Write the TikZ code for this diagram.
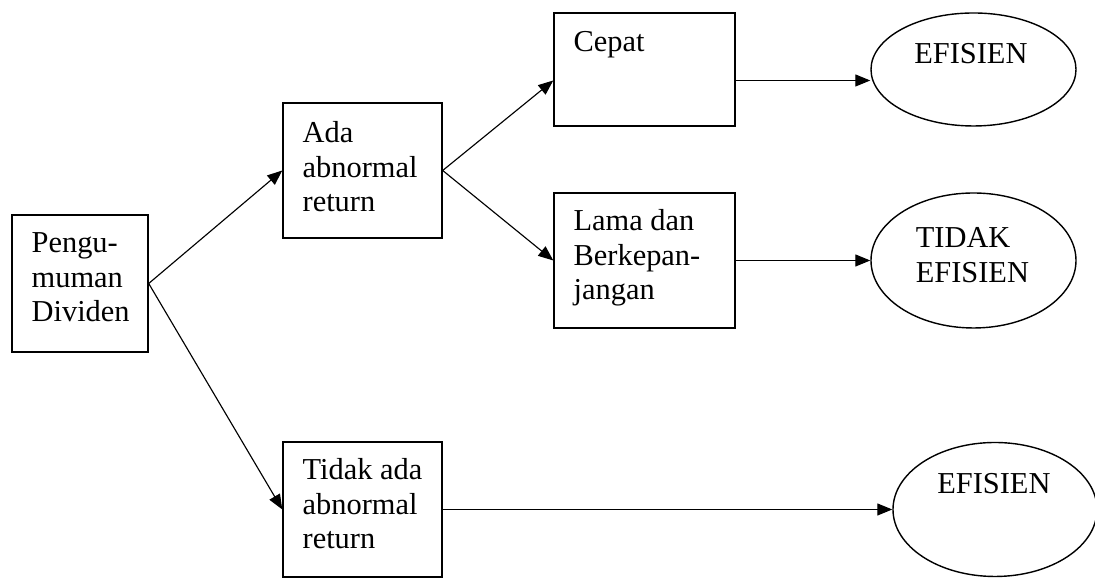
\documentclass[tikz,border=0pt]{standalone}
\usepackage{fontspec}
\setmainfont{Liberation Serif}
\usetikzlibrary{shapes.geometric, arrows.meta, positioning}

\tikzset{
    box/.style={draw, line width=0.8pt, inner sep=0pt},
    oval/.style={draw, ellipse, line width=0.8pt, inner sep=0pt},
    txt/.style={inner sep=0pt, align=left, font=\fontsize{17.3}{19.7}\selectfont},
    arr/.style={-{Triangle[length=0.3cm, width=0.24cm]}, line width=0.65pt}
}

\begin{document}
\begin{tikzpicture}
            \useasboundingbox (0,0) rectangle (21.9,11.56);

            % Pengumuman
            \node (peng) [box, minimum width=2.72cm, minimum height=2.74cm] at (1.6,5.89) {};
            \node (pengtxt) [txt, below right=0.36 and 0.4 of peng.north west] {Pengu-\\muman\\Dividen};

            % Abnormal return
            \node (ada) [box, minimum width=3.18cm, minimum height=2.7cm] at (7.25,8.15) {};
            \node (adatxt) [txt, below right=0.38 and 0.4 of ada.north west] {Ada\\abnormal\\return};
            \node (tdkada) [box, minimum width=3.18cm, minimum height=2.7cm] at (7.25,1.37) {};
            \node (tdkadatxt) [txt, below right=0.34 and 0.4 of tdkada.north west] {Tidak ada\\abnormal\\return};

            % Reaksi
            \node (cepat) [box, minimum width=3.62cm, minimum height=2.26cm] at (12.89,10.17) {};
            \node (cepattxt) [txt, below right=0.38 and 0.4 of cepat.north west] {Cepat};
            \node (lama) [box, minimum width=3.62cm, minimum height=2.7cm] at (12.89,6.35) {};
            \node (lamatxt) [txt, below right=0.34 and 0.4 of lama.north west] {Lama dan\\Berkepan-\\jangan};

            % Hasil
            \node (ef1) [oval, minimum width=4.1cm, minimum height=2.26cm] at (19.47,10.17) {};
            \node (ef1txt) [txt, anchor=north west] at ([shift={(-1.19,0.53)}]ef1.center) {EFISIEN};
            \node (tdkef) [oval, minimum width=4.1cm, minimum height=2.7cm] at (19.47,6.35) {};
            \node (tdkeftxt) [txt, anchor=north west] at ([shift={(-1.16,0.67)}]tdkef.center) {TIDAK\\EFISIEN};
            \node (ef2) [oval, minimum width=4.08cm, minimum height=2.68cm] at (19.9,1.37) {};
            \node (ef2txt) [txt, anchor=north west] at ([shift={(-1.16,0.72)}]ef2.center) {EFISIEN};

            % Panah
            \draw[arr] (peng.east) -- (ada.west);
            \draw[arr] (peng.east) -- (tdkada.west);
            \draw[arr] (ada.east) -- ([yshift=-0.22cm]cepat.west);
            \draw[arr] (ada.east) -- (lama.west);
            \draw[arr] ([yshift=-0.22cm]cepat.east) -- ([yshift=-0.22cm]ef1.west);
            \draw[arr] (lama.east) -- (tdkef.west);
            \draw[arr] (tdkada.east) -- (ef2.west);
        \end{tikzpicture}
\end{document}
